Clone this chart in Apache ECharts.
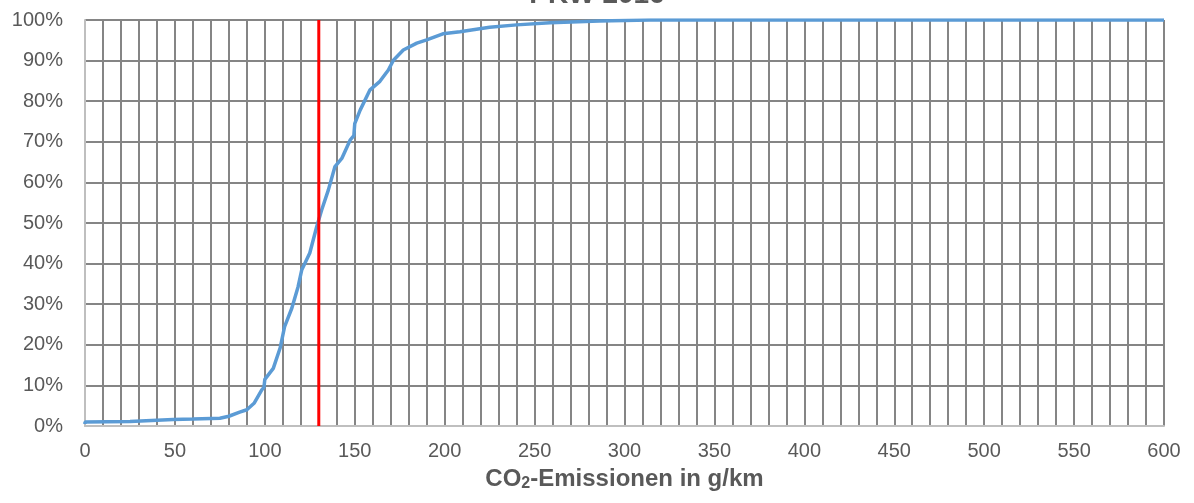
<!DOCTYPE html>
<html>
<head>
<meta charset="utf-8">
<script src="https://cdn.jsdelivr.net/npm/echarts@6/dist/echarts.min.js"></script>
<style>html,body{margin:0;padding:0;background:#fff}#c{width:1194px;height:503px}</style>
</head>
<body>
<div id="c"></div>
<script>
// Cumulative share (%) of cars by CO2 emissions (g/km)
const emissions = [0,0,25,49,60,75,80,86,90,94,98.3,99.5,100,104.7,108.5,111,115,118.5,120.5,125,128.8,131.6,135.3,139,142.8,147.4,149.5,150,153,158.5,164,168.7,171.5,177,184.5,190,199,208.5,225,240,258.6,286,314,600];
const cumulativeShare = [0.5,1.0,1.1,1.6,1.7,1.9,2.4,3.4,4.0,5.6,8.9,9.5,11.5,14.2,19.2,24.5,29,34.3,38.4,42.6,49,53.2,58.1,63.9,65.9,70.4,71.5,74.5,77.8,82.8,84.9,87.7,90.1,92.6,94.3,95.1,96.6,97.1,98.2,98.8,99.3,99.75,100,100];
const limitValue = 130;
const limitRange = [0, 100];
const xTicks = [0,50,100,150,200,250,300,350,400,450,500,550,600];
const titleText = 'PKW 2016';

const chart = echarts.init(document.getElementById('c'));
const font = 'Liberation Sans, Arial, sans-serif';
chart.setOption({
  animation: false,
  title: {
    text: titleText, left: 'center', top: -24,
    textStyle: {fontFamily: font, fontSize: 28, fontWeight: 'bold', color: '#595959'}
  },
  grid: {left: 85, right: 30, top: 20, bottom: 77},
  xAxis: {
    type: 'value', min: 0, max: 600, interval: 10,
    axisLine: {show: true, lineStyle: {color: '#bfbfbf', width: 2}},
    axisTick: {show: false},
    axisLabel: {
      fontFamily: font, fontSize: 20, color: '#595959', margin: 15,
      formatter: v => xTicks.includes(v) ? String(v) : ''
    },
    splitLine: {show: true, lineStyle: {color: '#858585', width: 2}},
    name: 'CO{sub|2}-Emissionen in g/km',
    nameLocation: 'middle', nameGap: 40,
    nameTextStyle: {
      fontFamily: font, fontSize: 24, fontWeight: 'bold', color: '#595959',
      rich: {sub: {fontFamily: font, fontSize: 16, fontWeight: 'bold', color: '#595959', verticalAlign: 'bottom', padding: [10,0,0,0]}}
    }
  },
  yAxis: {
    type: 'value', min: 0, max: 100, interval: 10,
    axisLine: {show: true, lineStyle: {color: '#bfbfbf', width: 2}},
    axisTick: {show: false},
    axisLabel: {fontFamily: font, fontSize: 20, color: '#595959', margin: 22, formatter: v => v + '%'},
    splitLine: {show: true, lineStyle: {color: '#858585', width: 2}}
  },
  series: [
    {
      type: 'line', showSymbol: false, symbol: 'none',
      data: emissions.map((e, i) => [e, cumulativeShare[i]]),
      lineStyle: {color: '#5b9bd5', width: 3.5},
      z: 3
    },
    {
      type: 'line', showSymbol: false, symbol: 'none',
      data: limitRange.map(p => [limitValue, p]),
      lineStyle: {color: '#ff0000', width: 3},
      z: 4
    }
  ]
});
</script>
</body>
</html>
